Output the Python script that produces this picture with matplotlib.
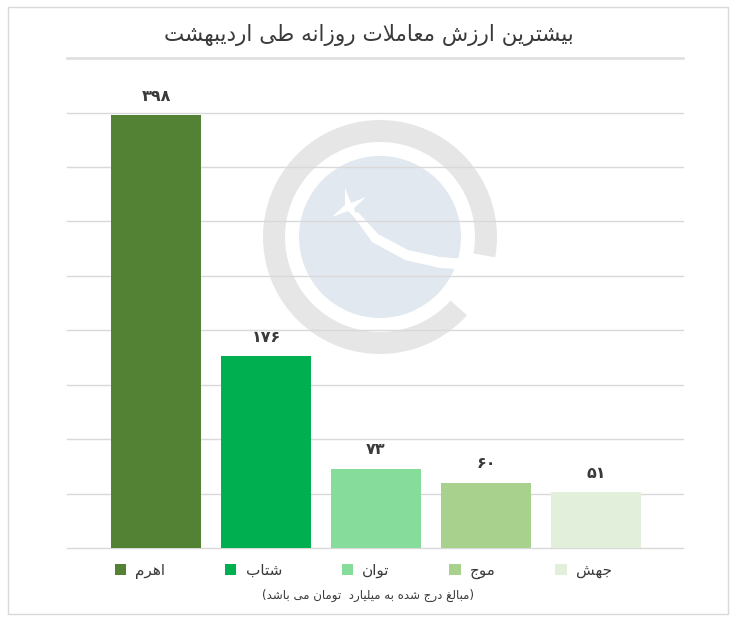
import matplotlib
matplotlib.use('Agg')
import matplotlib.pyplot as plt
from matplotlib.patches import Wedge, Circle, Rectangle, Polygon

# chart data
title = 'بیشترین ارزش معاملات روزانه طی اردیبهشت'
names = ['اهرم', 'شتاب', 'توان', 'موج', 'جهش']
values = [398, 176, 73, 60, 51]
note = 'مبالغ درج شده به میلیارد  تومان می باشد'
colors = ['#548235', '#00b050', '#86dc9b', '#a9d18e', '#e2efda']

# presentation forms: isolated, final, initial, medial
FORMS = {
    'ا': (0xFE8D, 0xFE8E),
    'ب': (0xFE8F, 0xFE90, 0xFE91, 0xFE92),
    'ت': (0xFE95, 0xFE96, 0xFE97, 0xFE98),
    'ج': (0xFE9D, 0xFE9E, 0xFE9F, 0xFEA0),
    'د': (0xFEA9, 0xFEAA),
    'ر': (0xFEAD, 0xFEAE),
    'ز': (0xFEAF, 0xFEB0),
    'ش': (0xFEB5, 0xFEB6, 0xFEB7, 0xFEB8),
    'ط': (0xFEC1, 0xFEC2, 0xFEC3, 0xFEC4),
    'ع': (0xFEC9, 0xFECA, 0xFECB, 0xFECC),
    'غ': (0xFECD, 0xFECE, 0xFECF, 0xFED0),
    'ل': (0xFEDD, 0xFEDE, 0xFEDF, 0xFEE0),
    'م': (0xFEE1, 0xFEE2, 0xFEE3, 0xFEE4),
    'ن': (0xFEE5, 0xFEE6, 0xFEE7, 0xFEE8),
    'ه': (0xFEE9, 0xFEEA, 0xFEEB, 0xFEEC),
    'و': (0xFEED, 0xFEEE),
    'ی': (0xFBFC, 0xFBFD, 0xFBFE, 0xFBFF),
}


def joins_next(c):
    return c in FORMS and len(FORMS[c]) == 4


def shape(text):
    # join the letters and flip to visual (left to right) order
    out = []
    i, n = 0, len(text)
    while i < n:
        c = text[i]
        if c not in FORMS:
            out.append(c)
            i += 1
            continue
        from_prev = i > 0 and joins_next(text[i - 1])
        if c == 'ل' and i + 1 < n and text[i + 1] == 'ا':
            out.append('\uFEFC' if from_prev else '\uFEFB')
            i += 2
            continue
        to_next = joins_next(c) and i + 1 < n and text[i + 1] in FORMS
        f = FORMS[c]
        if from_prev and to_next:
            g = f[3]
        elif from_prev:
            g = f[1]
        elif to_next:
            g = f[2]
        else:
            g = f[0]
        out.append(chr(g))
        i += 1
    return ''.join(out)[::-1]


def fa_digits(v):
    return str(v).translate(str.maketrans('0123456789', '۰۱۲۳۴۵۶۷۸۹'))


W, H = 737, 622
plt.rcParams['font.family'] = ['DejaVu Sans']
txt_color = '#3a3a3a'
grid_color = '#d9d9d9'

fig = plt.figure(figsize=(W / 100, H / 100), dpi=100)

# background layer in pixel coordinates (frame, title rule, watermark)
bg = fig.add_axes([0, 0, 1, 1], zorder=0)
bg.set_xlim(0, W)
bg.set_ylim(H, 0)
bg.axis('off')
bg.add_patch(Rectangle((8, 7), 720, 607, fill=False, ec=grid_color, lw=1))
bg.plot([67, 683], [57.5, 57.5], color='#dddddd', lw=1.8)

cx, cy = 380, 237
bg.add_patch(Wedge((cx, cy), 117, 42, 370, width=22, color='#e6e6e6', lw=0))
bg.add_patch(Circle((cx, cy), 81, color='#e1e8ef', lw=0))
# swoosh and star
bg.add_patch(Polygon([(352, 214), (372, 242), (405, 260), (440, 268), (478, 270),
                      (478, 260), (440, 257), (408, 250), (378, 234), (358, 212)],
                     closed=True, color='white', lw=0))
bg.add_patch(Polygon([(345, 188), (351, 203), (366, 197), (354, 208), (357, 220),
                      (348, 211), (332, 217), (345, 205)],
                     closed=True, color='white', lw=0))

# main bar axes
ax = fig.add_axes([67 / W, 1 - 548 / H, 616 / W, (548 - 112.6) / H], zorder=1)
ax.patch.set_alpha(0)
x = list(range(len(values)))
bars = ax.bar(x, values, width=0.818, color=colors, zorder=3)
ax.set_xlim(-0.809, 4.79)
ax.set_ylim(0, 400)
ax.set_yticks(range(0, 401, 50))
ax.yaxis.grid(True, color=grid_color, lw=1)
for gl in ax.get_ygridlines():
    gl.set_clip_on(False)
ax.set_axisbelow(True)
ax.set_xticks([])
ax.tick_params(left=False, labelleft=False)
for s in ax.spines.values():
    s.set_visible(False)

for xi, v in zip(x, values):
    ax.annotate(fa_digits(v), (xi, v), xytext=(0, 13.5), textcoords='offset points',
                ha='center', va='center', fontsize=11.5, fontweight='bold',
                color=txt_color, annotation_clip=False)

fig.text(0.5, 1 - 35 / H, shape(title), ha='center', va='center',
         fontsize=15.5, color=txt_color)

fig.legend(bars, [shape(n) for n in names], ncol=5, loc='center',
           bbox_to_anchor=(0.493, 1 - 571 / H), frameon=False,
           handlelength=0.75, handleheight=0.75, handletextpad=0.6,
           columnspacing=3.9, fontsize=11, labelcolor=txt_color)

fig.text(0.5, 1 - 595 / H, '(' + shape(note) + ')', ha='center', va='center',
         fontsize=8.5, color=txt_color)

fig.savefig('out.png', dpi=100)
